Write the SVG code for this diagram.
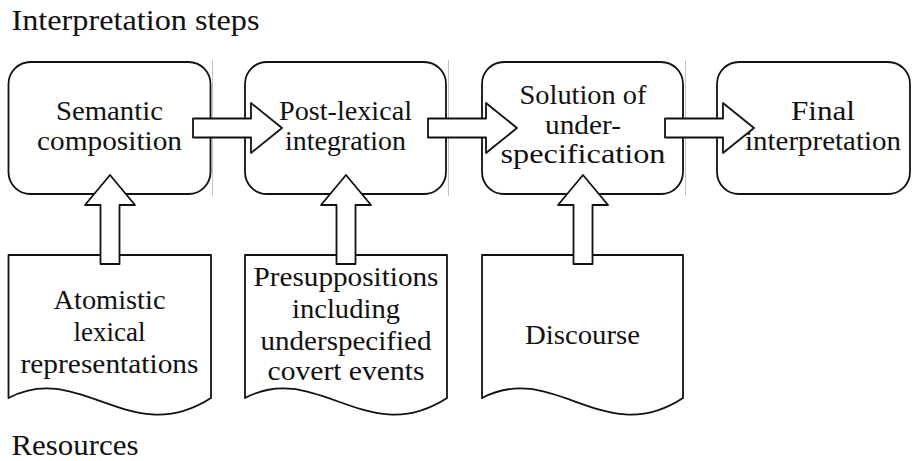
<svg xmlns="http://www.w3.org/2000/svg" width="912" height="461" viewBox="0 0 912 461">
  <style>
    .step { fill: #fff; stroke: #111; stroke-width: 1.8; }
    .doc { fill: #fff; stroke: #111; stroke-width: 1.8; stroke-linejoin: round; }
    .flow { fill: #fff; stroke: #111; stroke-width: 1.8; stroke-linejoin: round; }
    .guide { stroke: #c4c4c4; stroke-width: 1; }
    text { font-family: "Liberation Serif", "Times New Roman", serif; fill: #111; }
    .lbl { font-size: 27px; text-anchor: middle; }
    .head { font-size: 29px; }
  </style>

  <!-- section headings -->
  <text class="head" x="11.5" y="30" textLength="248" lengthAdjust="spacingAndGlyphs">Interpretation steps</text>
  <text class="head" x="11.5" y="455" textLength="127" lengthAdjust="spacingAndGlyphs">Resources</text>

  <!-- faint column guides -->
  <g id="guides">
    <line class="guide" x1="212.5" y1="60" x2="212.5" y2="196"/>
    <line class="guide" x1="448.5" y1="60" x2="448.5" y2="196"/>
    <line class="guide" x1="685.5" y1="60" x2="685.5" y2="196"/>
  </g>

  <!-- interpretation steps -->
  <g id="semantic-composition">
    <rect class="step" x="8.5" y="62" width="202" height="132" rx="22"/>
    <text class="lbl" x="109.5" y="119.5" textLength="107" lengthAdjust="spacingAndGlyphs">Semantic</text>
    <text class="lbl" x="109.5" y="150" textLength="145" lengthAdjust="spacingAndGlyphs">composition</text>
  </g>
  <g id="post-lexical-integration">
    <rect class="step" x="245" y="62" width="201" height="132" rx="22"/>
    <text class="lbl" x="345.5" y="120" textLength="133" lengthAdjust="spacingAndGlyphs">Post-lexical</text>
    <text class="lbl" x="345.5" y="150" textLength="121" lengthAdjust="spacingAndGlyphs">integration</text>
  </g>
  <g id="underspecification">
    <rect class="step" x="482" y="62" width="201" height="132" rx="22"/>
    <text class="lbl" x="583" y="104" textLength="127" lengthAdjust="spacingAndGlyphs">Solution of</text>
    <text class="lbl" x="583" y="134" textLength="76" lengthAdjust="spacingAndGlyphs">under-</text>
    <text class="lbl" x="583" y="163" textLength="165" lengthAdjust="spacingAndGlyphs">specification</text>
  </g>
  <g id="final-interpretation">
    <rect class="step" x="717" y="62" width="193" height="132" rx="22"/>
    <text class="lbl" x="823" y="120" textLength="64" lengthAdjust="spacingAndGlyphs">Final</text>
    <text class="lbl" x="823" y="150" textLength="156" lengthAdjust="spacingAndGlyphs">interpretation</text>
  </g>

  <!-- resources -->
  <g id="atomistic-representations">
    <path class="doc" d="M8.5,255 H211 V398 C130,450 80,360 8.5,398 Z"/>
    <text class="lbl" x="109.5" y="309" textLength="112" lengthAdjust="spacingAndGlyphs">Atomistic</text>
    <text class="lbl" x="109.5" y="341" textLength="72" lengthAdjust="spacingAndGlyphs">lexical</text>
    <text class="lbl" x="109.5" y="372.5" textLength="178" lengthAdjust="spacingAndGlyphs">representations</text>
  </g>
  <g id="presuppositions">
    <path class="doc" d="M245,255 H447 V398 C367,450 317,360 245,398 Z"/>
    <text class="lbl" x="346" y="286" textLength="185" lengthAdjust="spacingAndGlyphs">Presuppositions</text>
    <text class="lbl" x="346" y="317.5" textLength="108" lengthAdjust="spacingAndGlyphs">including</text>
    <text class="lbl" x="346" y="349.5" textLength="171" lengthAdjust="spacingAndGlyphs">underspecified</text>
    <text class="lbl" x="346" y="380" textLength="157" lengthAdjust="spacingAndGlyphs">covert events</text>
  </g>
  <g id="discourse">
    <path class="doc" d="M482,255 H683 V398 C604,450 554,360 482,398 Z"/>
    <text class="lbl" x="582.5" y="343.5" textLength="115" lengthAdjust="spacingAndGlyphs">Discourse</text>
  </g>

  <!-- block arrows -->
  <g id="connectors">
    <path class="flow" d="M193,118.5 H251 V103 L282,128 L251,153 V137.5 H193 Z"/>
    <path class="flow" d="M428,118.5 H486 V103 L517,128 L486,153 V137.5 H428 Z"/>
    <path class="flow" d="M665,118.5 H723 V103 L754,128 L723,153 V137.5 H665 Z"/>
    <path class="flow" d="M100.5,264 V205 H85 L110,175 L135,205 H119.5 V264 Z"/>
    <path class="flow" d="M336.5,264 V205 H321 L346,175 L371,205 H355.5 V264 Z"/>
    <path class="flow" d="M573.5,264 V205 H558 L583,175 L608,205 H592.5 V264 Z"/>
  </g>
</svg>
